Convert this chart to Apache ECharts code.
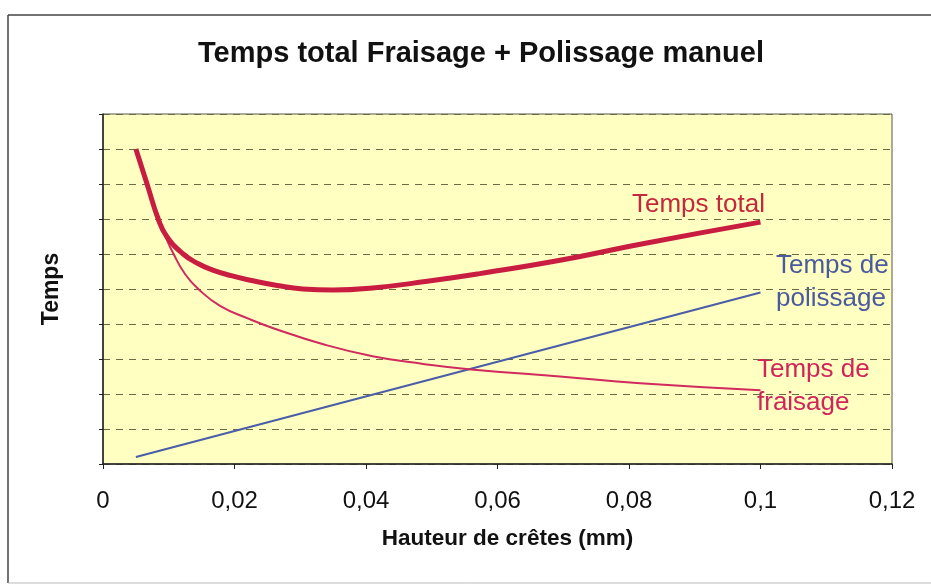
<!DOCTYPE html>
<html>
<head>
<meta charset="utf-8">
<script src="https://cdn.jsdelivr.net/npm/echarts@6/dist/echarts.min.js"></script>
<style>
  html, body { margin: 0; padding: 0; background: #fff; }
  #main { width: 931px; height: 586px; }
</style>
</head>
<body>
<div id="main"></div>
<script>
// valeurs (x en mm, y sans unité)
var xTicks = ['0', '0,02', '0,04', '0,06', '0,08', '0,1', '0,12'];

var xTotal = [0.005, 0.0067, 0.0084, 0.0097, 0.0122, 0.0145, 0.0167, 0.0195, 0.0224, 0.0265, 0.0304, 0.035, 0.041, 0.0493, 0.0573, 0.0695, 0.0817, 0.1];
var yTotal = [9.0, 8.0, 7.0, 6.5, 6.0, 5.72, 5.54, 5.38, 5.25, 5.1, 5.0, 4.97, 5.03, 5.22, 5.44, 5.82, 6.28, 6.91];

var xFraisage = [0.005, 0.0067, 0.0084, 0.0095, 0.0106, 0.0125, 0.0145, 0.0178, 0.0224, 0.0259, 0.0335, 0.041, 0.0487, 0.056, 0.0695, 0.0817, 0.1];
var yFraisage = [8.9, 7.95, 7.0, 6.5, 6.05, 5.42, 5.0, 4.52, 4.13, 3.88, 3.42, 3.08, 2.86, 2.7, 2.5, 2.31, 2.11];

var xPolissage = [0.005, 0.1];
var yPolissage = [0.2, 4.9];

function zip(xs, ys) {
  return xs.map(function (x, i) { return [x, ys[i]]; });
}

var chart = echarts.init(document.getElementById('main'));

chart.setOption({
  animation: false,
  backgroundColor: '#fff',
  textStyle: { fontFamily: 'Liberation Sans' },
  title: {
    text: 'Temps total Fraisage + Polissage manuel',
    left: 476,
    top: 34,
    textAlign: 'center',
    textStyle: { fontSize: 29, fontWeight: 'bold', color: '#111', fontFamily: 'Liberation Sans' }
  },
  grid: {
    left: 103, right: 39, top: 114, bottom: 122,
    show: true,
    backgroundColor: '#FFFFC2',
    borderColor: '#555',
    borderWidth: 1
  },
  xAxis: {
    type: 'value',
    min: 0, max: 0.12, interval: 0.02,
    name: 'Hauteur de crêtes (mm)',
    nameLocation: 'middle',
    nameGap: 63,
    nameTextStyle: { fontSize: 22.5, fontWeight: 'bold', color: '#111', padding: [0, 0, 0, 20] },
    axisLine: { lineStyle: { color: '#222', width: 1.5 } },
    axisTick: { show: true, length: 5, lineStyle: { color: '#222' } },
    axisLabel: {
      fontSize: 24, color: '#111', margin: 25,
      formatter: function (v) { return xTicks[Math.round(v / 0.02)]; }
    },
    splitLine: { show: false }
  },
  yAxis: {
    type: 'value',
    min: 0, max: 10, interval: 1,
    name: 'Temps',
    nameLocation: 'middle',
    nameGap: 40,
    nameTextStyle: { fontSize: 23, fontWeight: 'bold', color: '#111' },
    axisLine: { show: true, lineStyle: { color: '#222', width: 1.5 } },
    axisTick: { show: true, length: 4, lineStyle: { color: '#222' } },
    axisLabel: { show: false },
    splitLine: { show: true, lineStyle: { color: '#6b6b45', type: [7, 6], width: 1.2 } }
  },
  series: [
    {
      name: 'Temps de polissage',
      type: 'line',
      data: zip(xPolissage, yPolissage),
      showSymbol: false,
      lineStyle: { color: '#4a5ea8', width: 2 }
    },
    {
      name: 'Temps de fraisage',
      type: 'line',
      data: zip(xFraisage, yFraisage),
      smooth: 0.5,
      showSymbol: false,
      lineStyle: { color: '#d02a5e', width: 2 }
    },
    {
      name: 'Temps total',
      type: 'line',
      data: zip(xTotal, yTotal),
      smooth: 0.5,
      showSymbol: false,
      lineStyle: { color: '#c81d40', width: 5 }
    }
  ],
  graphic: [
    { type: 'line', shape: { x1: 8, y1: 15, x2: 931, y2: 15 }, style: { stroke: '#444', lineWidth: 1.5 } },
    { type: 'line', shape: { x1: 8, y1: 15, x2: 8, y2: 583 }, style: { stroke: '#444', lineWidth: 1.5 } },
    { type: 'line', shape: { x1: 8, y1: 583, x2: 931, y2: 583 }, style: { stroke: '#bbb', lineWidth: 1 } },
    { type: 'text', left: 632, top: 192, style: { text: 'Temps total', fontSize: 26, fill: '#c4283c', fontFamily: 'Liberation Sans' } },
    { type: 'text', left: 776, top: 249, style: { text: 'Temps de\npolissage', fontSize: 26, lineHeight: 33, fill: '#4a5a9e', fontFamily: 'Liberation Sans' } },
    { type: 'text', left: 757, top: 353, style: { text: 'Temps de\nfraisage', fontSize: 26, lineHeight: 33, fill: '#d0245a', fontFamily: 'Liberation Sans' } }
  ]
});
</script>
</body>
</html>
